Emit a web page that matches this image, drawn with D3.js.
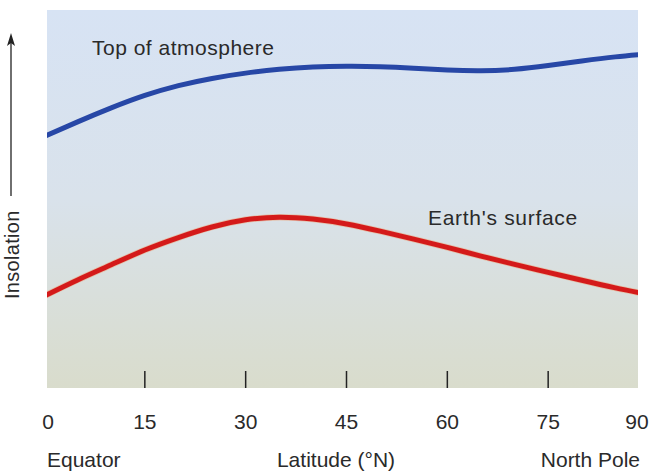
<!DOCTYPE html>
<html><head><meta charset="utf-8">
<script src="https://cdn.jsdelivr.net/npm/d3@7"></script>
<style>body{margin:0;background:#fff}svg{display:block}text{font-family:"Liberation Sans",Arial,sans-serif;fill:#2a2a2a}</style>
</head><body><svg id="c" width="656" height="476"></svg>
<script>
const latitudes = [0,5,10,15,20,25,30,35,40,45,50,55,60,65,70,75,80,85,90];
const topAtmosphere = [66.5,70.4,74.1,77.4,80.0,81.9,83.3,84.3,84.9,85.1,85.0,84.6,84.1,83.9,84.3,85.3,86.5,87.6,88.4];
const earthSurface = [24.3,28.6,32.6,36.5,39.8,42.6,44.5,45.2,44.7,43.4,41.5,39.4,37.2,34.9,32.7,30.6,28.5,26.5,24.7];
const tickValues = [15,30,45,60,75];
const tickLabels = [0,15,30,45,60,75,90];

const svg = d3.select("#c");
const plot = {left:47, right:638, top:10, bottom:388};
const x = d3.scaleLinear().domain([0,90]).range([44,649]);
const y = d3.scaleLinear().domain([0,100]).range([388,10]);

const defs = svg.append("defs");
const g = defs.append("linearGradient").attr("id","bg").attr("x1",0).attr("y1",0).attr("x2",0).attr("y2",1);
g.append("stop").attr("offset","0%").attr("stop-color","#d7e3f4");
g.append("stop").attr("offset","50%").attr("stop-color","#d9e2eb");
g.append("stop").attr("offset","100%").attr("stop-color","#d9dccc");
defs.append("clipPath").attr("id","clip").append("rect")
  .attr("x",plot.left).attr("y",plot.top).attr("width",plot.right-plot.left).attr("height",plot.bottom-plot.top);

svg.append("rect").attr("x",plot.left).attr("y",plot.top)
  .attr("width",plot.right-plot.left).attr("height",plot.bottom-plot.top).attr("fill","url(#bg)");

const line = d3.line().x((d,i)=>x(latitudes[i])).y(d=>y(d)).curve(d3.curveNatural);
const lines = svg.append("g").attr("clip-path","url(#clip)");
lines.append("path").datum(earthSurface).attr("d",line).attr("fill","none")
  .attr("stroke","#f0a070").attr("stroke-width",6.5).attr("opacity",0.5);
lines.append("path").datum(earthSurface).attr("d",line).attr("fill","none")
  .attr("stroke","#d41a1a").attr("stroke-width",5);
lines.append("path").datum(topAtmosphere).attr("d",line).attr("fill","none")
  .attr("stroke","#2747a6").attr("stroke-width",5);

// ticks
svg.append("g").selectAll("line").data(tickValues).join("line")
  .attr("x1",d=>x(d)).attr("x2",d=>x(d)).attr("y1",371).attr("y2",plot.bottom)
  .attr("stroke","#222").attr("stroke-width",1.5);

// tick labels
svg.append("g").selectAll("text").data(tickLabels).join("text")
  .attr("x",d=>Math.max(plot.left+1, Math.min(plot.right-1, x(d))))
  .attr("y",429).attr("text-anchor","middle").attr("font-size",21).text(d=>d);

svg.append("text").attr("x",47).attr("y",467).attr("font-size",21).text("Equator");
svg.append("text").attr("x",336).attr("y",467).attr("text-anchor","middle").attr("font-size",21).text("Latitude (°N)");
svg.append("text").attr("x",640).attr("y",467).attr("text-anchor","end").attr("font-size",21).text("North Pole");

svg.append("text").attr("x",92).attr("y",55).attr("font-size",21).attr("letter-spacing",0.5).text("Top of atmosphere");
svg.append("text").attr("x",428).attr("y",225).attr("font-size",21).attr("letter-spacing",0.7).text("Earth's surface");

// y label with arrow
svg.append("text").attr("transform","translate(19,299) rotate(-90)").attr("font-size",20).attr("letter-spacing",0.3).text("Insolation");
svg.append("line").attr("x1",11).attr("x2",11).attr("y1",196).attr("y2",42).attr("stroke","#222").attr("stroke-width",1.3);
svg.append("path").attr("d","M11,33 L7,46 L11,43 L15,46 Z").attr("fill","#222");
</script></body></html>
